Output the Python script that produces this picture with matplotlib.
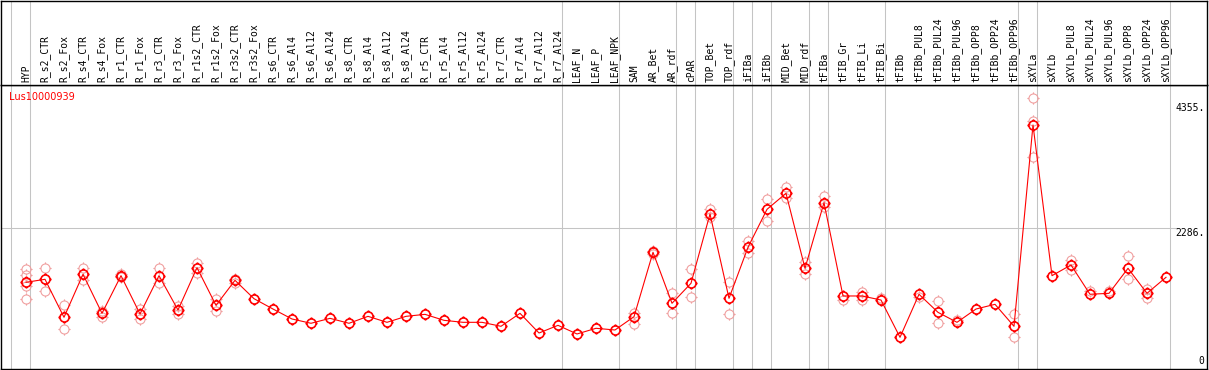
import matplotlib
matplotlib.use("Agg")
import matplotlib.pyplot as plt
import matplotlib.path as mpath
import numpy as np

# sample names, in plotting order
samples = ["HYP",
           "R_s2_CTR", "R_s2_Fox", "R_s4_CTR", "R_s4_Fox", "R_r1_CTR", "R_r1_Fox",
           "R_r3_CTR", "R_r3_Fox", "R_r1s2_CTR", "R_r1s2_Fox", "R_r3s2_CTR", "R_r3s2_Fox",
           "R_s6_CTR", "R_s6_Al4", "R_s6_Al12", "R_s6_Al24",
           "R_s8_CTR", "R_s8_Al4", "R_s8_Al12", "R_s8_Al24",
           "R_r5_CTR", "R_r5_Al4", "R_r5_Al12", "R_r5_Al24",
           "R_r7_CTR", "R_r7_Al4", "R_r7_Al12", "R_r7_Al24",
           "LEAF_N", "LEAF_P", "LEAF_NPK",
           "SAM", "AR_Bet", "AR_rdf", "cPAR", "TOP_Bet", "TOP_rdf",
           "iFIBa", "iFIBb", "MID_Bet", "MID_rdf", "tFIBa",
           "tFIB_Gr", "tFIB_Li", "tFIB_Bi",
           "tFIBb", "tFIBb_PUL8", "tFIBb_PUL24", "tFIBb_PUL96",
           "tFIBb_OPP8", "tFIBb_OPP24", "tFIBb_OPP96",
           "sXYLa", "sXYLb", "sXYLb_PUL8", "sXYLb_PUL24", "sXYLb_PUL96",
           "sXYLb_OPP8", "sXYLb_OPP24", "sXYLb_OPP96"]

# group sizes (a separator is drawn after each group)
group_sizes = [1, 28, 3, 3, 1, 2, 1, 1, 2, 1, 3, 7, 1, 7]

# mean expression per sample
means = [1385, 1435, 806, 1518, 872, 1495, 861, 1495, 927, 1627,
         1004, 1418, 1114, 943, 778, 707, 789, 707, 822, 723,
         822, 855, 756, 723, 723, 657, 872, 546, 673, 530,
         624, 596, 816, 1882, 1038, 1369, 2516, 1120, 1965, 2593,
         2858, 1617, 2703, 1159, 1159, 1092, 475, 1187, 888, 723,
         943, 1021, 657, 3989, 1495, 1672, 1187, 1203, 1617, 1203,
         1468]

# visible replicate values per sample
replicates = [[1605, 1506, 1330, 1104], [1617, 1241], [1010, 612], [1617, 1423],
              [910, 816], [1520, 1470], [938, 773], [1617, 1379], [993, 861],
              [1700, 1534], [1104, 916], [1434, 1368], [], [], [], [], [], [], [],
              [], [], [], [], [], [], [], [], [], [], [], [], [],
              [882, 695], [1900, 1860], [1203, 872], [1605, 1137], [2593, 2461],
              [1385, 856], [2074, 1875], [2764, 2405], [2968, 2776], [1726, 1523],
              [2819, 2637], [1092], [1230, 1092], [1120], [], [1137], [1076, 707],
              [761], [], [], [856, 475], [4431, 4055, 3464], [], [1754, 1589],
              [1246], [1246], [1821, 1435], [1269, 1120], []]

y_ticks = [0, 2286, 4355]
y_tick_labels = ["0", "2286.", "4355."]
gene = "Lus10000939"

W, H = 1209, 370
fig = plt.figure(figsize=(W / 100, H / 100), dpi=100)

# pixel layout
left_px, right_px = 1, 1207
head_top, head_bot, plot_bot = 0.5, 85, 369
x0, dx = 26, 19            # pixel of first sample, spacing
y0_px, slope = 366, 0.06042  # pixel of value 0, pixels per unit

ax = fig.add_axes([left_px / W, (H - plot_bot) / H,
                   (right_px - left_px) / W, (plot_bot - head_bot) / H])
axh = fig.add_axes([left_px / W, (H - head_bot) / H,
                    (right_px - left_px) / W, (head_bot - head_top) / H], sharex=ax)

ax.set_xlim((left_px - x0) / dx, (right_px - x0) / dx)
ax.set_ylim((y0_px - plot_bot) / slope, (y0_px - head_bot) / slope)
axh.set_ylim(0, 1)

for a in (ax, axh):
    a.set_xticks([])
    a.set_yticks([])
    for s in a.spines.values():
        s.set_color("black")
        s.set_linewidth(1.0)

sep_color = "#c4c4c4"
edges = [-1] + list(np.cumsum(group_sizes) - 1)
for e in edges:
    for a in (ax, axh):
        a.axvline(e + 0.23, color=sep_color, lw=0.75, zorder=0)

ax.axhline(y_ticks[1], xmin=0, xmax=(1177 - left_px) / (right_px - left_px),
           color=sep_color, lw=0.75, zorder=0)

# marker: open circle with four small ticks
circ = mpath.Path.unit_circle()
t = 1.35
tick_verts = [(0, 1), (0, t), (0, -1), (0, -t), (1, 0), (t, 0), (-1, 0), (-t, 0)]
tick_codes = [mpath.Path.MOVETO, mpath.Path.LINETO] * 4
mk = mpath.Path.make_compound_path(circ, mpath.Path(tick_verts, tick_codes))
ms = 8.8

xs = np.arange(len(samples))
for i, reps in enumerate(replicates):
    if reps:
        ax.plot([i] * len(reps), reps, linestyle="none", marker=mk, ms=ms,
                mfc="none", mec="#f0a0a0", mew=0.8, zorder=2)

ax.plot(xs, means, color="red", lw=0.8, marker=mk, ms=ms,
        mfc="none", mec="red", mew=1.2, zorder=3)

mono = "DejaVu Sans Mono"
for i, name in enumerate(samples):
    axh.text(i, 3 / 85, name, rotation=90, ha="center", va="bottom",
             fontsize=7, family=mono)

tr = ax.get_yaxis_transform()
for v, lab in zip(y_ticks, y_tick_labels):
    va = "bottom" if v == 0 else "top"
    ax.text(0.998, v, lab, transform=tr, ha="right", va=va, fontsize=7, family=mono)

fig.text(9 / W, (H - 97) / H, gene, color="red", fontsize=7, va="center", ha="left")

fig.savefig("out.png", dpi=100)
